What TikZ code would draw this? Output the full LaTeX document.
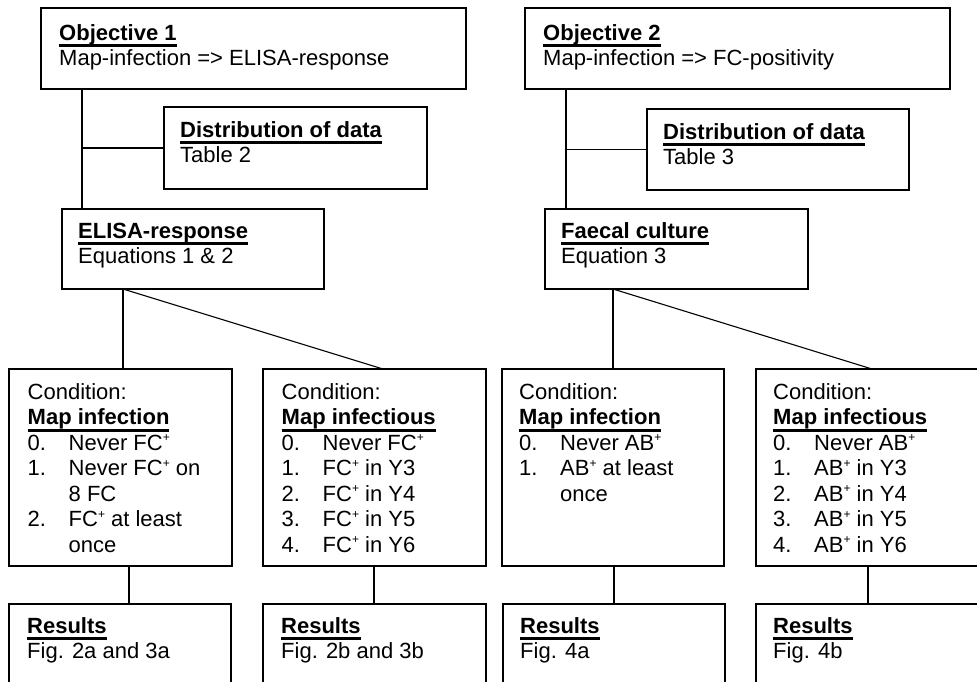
\documentclass[tikz,border=0pt]{standalone}
\usepackage{fontspec}
\setmainfont{Liberation Sans}
\newcommand{\myhd}[1]{\setbox0\hbox{\bfseries #1}\rlap{\rule[-7pt]{\wd0}{2.6pt}}\box0}
\newcommand{\myitem}[1]{\makebox[41pt][l]{#1}}
\newcommand{\mycont}{\hspace*{41pt}}
\newcommand{\plus}{\raisebox{8.5pt}{\fontsize{12}{12}\selectfont +}}
\begin{document}
\begin{tikzpicture}[x=1pt,y=-1pt,
  box/.style={draw,line width=1.1pt,anchor=north west,inner sep=0pt,outer sep=0pt},
  txt/.style={anchor=north west,inner sep=0pt,align=left,font={\fontsize{22}{25.5}\selectfont\lineskiplimit=-20pt}},
  conn/.style={line width=1.1pt}]
\useasboundingbox (0,0) rectangle (977,681);
\clip (0,0) rectangle (977,681);
\fill[white] (0,0) rectangle (977,681);
% boxes
\node[box,minimum width=425pt,minimum height=81pt] (obj1) at (41,8) {};
\node[box,minimum width=263pt,minimum height=82pt] (dist1) at (164,107) {};
\node[box,minimum width=262pt,minimum height=80pt] (elisa) at (62,209) {};
\node[box,minimum width=223pt,minimum height=197pt] (cond1) at (9,369) {};
\node[box,minimum width=223pt,minimum height=197pt] (cond2) at (263,369) {};
\node[box,minimum width=222pt,minimum height=120pt] (res1) at (9,604) {};
\node[box,minimum width=223pt,minimum height=120pt] (res2) at (263,604) {};
\node[box,minimum width=425pt,minimum height=81pt] (obj2) at (525,8) {};
\node[box,minimum width=262pt,minimum height=81pt] (dist2) at (647,109) {};
\node[box,minimum width=263pt,minimum height=80pt] (faec) at (545,209) {};
\node[box,minimum width=222pt,minimum height=197pt] (cond3) at (502,369) {};
\node[box,minimum width=226pt,minimum height=197pt] (cond4) at (756,369) {};
\node[box,minimum width=222pt,minimum height=120pt] (res3) at (503,604) {};
\node[box,minimum width=226pt,minimum height=120pt] (res4) at (756,604) {};
% texts
\node[txt] (tobj1) at ([shift={(18,14)}]obj1.north west) {\strut\myhd{Objective 1}\\Map-infection => ELISA-response};
\node[txt] (tdist1) at ([shift={(16,12)}]dist1.north west) {\strut\myhd{Distribution of data}\\Table 2};
\node[txt] (telisa) at ([shift={(16,11)}]elisa.north west) {\strut\myhd{ELISA-response}\\Equations 1 \& 2};
\node[txt] (tcond1) at ([shift={(18.5,12)}]cond1.north west) {\strut Condition:\\\myhd{Map infection}\\\myitem{0.}Never FC\plus\\\myitem{1.}Never FC\plus{} on\\\mycont 8 FC\\\myitem{2.}FC\plus{} at least\\\mycont once};
\node[txt] (tcond2) at ([shift={(18.5,12)}]cond2.north west) {\strut Condition:\\\myhd{Map infectious}\\\myitem{0.}Never FC\plus\\\myitem{1.}FC\plus{} in Y3\\\myitem{2.}FC\plus{} in Y4\\\myitem{3.}FC\plus{} in Y5\\\myitem{4.}FC\plus{} in Y6};
\node[txt] (tres1) at ([shift={(18,11)}]res1.north west) {\strut\myhd{Results}\\Fig. 2a and 3a};
\node[txt] (tres2) at ([shift={(18,11)}]res2.north west) {\strut\myhd{Results}\\Fig. 2b and 3b};
\node[txt] (tobj2) at ([shift={(18,14)}]obj2.north west) {\strut\myhd{Objective 2}\\Map-infection => FC-positivity};
\node[txt] (tdist2) at ([shift={(16,12)}]dist2.north west) {\strut\myhd{Distribution of data}\\Table 3};
\node[txt] (tfaec) at ([shift={(16,11)}]faec.north west) {\strut\myhd{Faecal culture}\\Equation 3};
\node[txt] (tcond3) at ([shift={(17,12)}]cond3.north west) {\strut Condition:\\\myhd{Map infection}\\\myitem{0.}Never AB\plus\\\myitem{1.}AB\plus{} at least\\\mycont once};
\node[txt] (tcond4) at ([shift={(17,12)}]cond4.north west) {\strut Condition:\\\myhd{Map infectious}\\\myitem{0.}Never AB\plus\\\myitem{1.}AB\plus{} in Y3\\\myitem{2.}AB\plus{} in Y4\\\myitem{3.}AB\plus{} in Y5\\\myitem{4.}AB\plus{} in Y6};
\node[txt] (tres3) at ([shift={(17,11)}]res3.north west) {\strut\myhd{Results}\\Fig. 4a};
\node[txt] (tres4) at ([shift={(17,11)}]res4.north west) {\strut\myhd{Results}\\Fig. 4b};
% connectors, left half
\coordinate (j1) at ([xshift=41pt]obj1.south west);
\draw[conn] (j1) -- (j1 |- elisa.north);
\draw[conn] (j1 |- dist1.west) -- (dist1.west);
\coordinate (e1) at ([xshift=61pt]elisa.south west);
\coordinate (c2top) at ([xshift=120pt]cond2.north west);
\draw[conn] (e1) -- (e1 |- cond1.north);
\draw[conn] (e1) -- (c2top);
\coordinate (c1b) at ([xshift=120pt]cond1.south west);
\coordinate (c2b) at ([xshift=111pt]cond2.south west);
\draw[conn] (c1b) -- (c1b |- res1.north);
\draw[conn] (c2b) -- (c2b |- res2.north);
% connectors, right half
\coordinate (j2) at ([xshift=41pt]obj2.south west);
\draw[conn] (j2) -- (j2 |- faec.north);
\draw[conn] (j2 |- dist2.west) -- (dist2.west);
\coordinate (f1) at ([xshift=68pt]faec.south west);
\coordinate (c4top) at ([xshift=116pt]cond4.north west);
\draw[conn] (f1) -- (f1 |- cond3.north);
\draw[conn] (f1) -- (c4top);
\coordinate (c3b) at ([xshift=112pt]cond3.south west);
\coordinate (c4b) at ([xshift=112pt]cond4.south west);
\draw[conn] (c3b) -- (c3b |- res3.north);
\draw[conn] (c4b) -- (c4b |- res4.north);
\end{tikzpicture}
\end{document}
